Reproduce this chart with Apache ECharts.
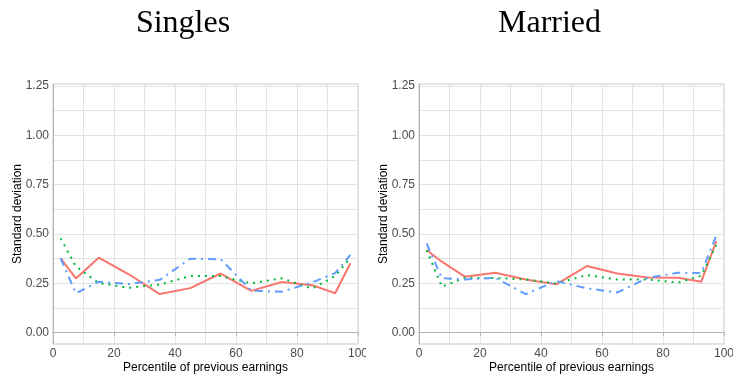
<!DOCTYPE html>
<html>
<head>
<meta charset="utf-8">
<script src="https://cdn.jsdelivr.net/npm/echarts@6/dist/echarts.min.js"></script>
<style>
  html, body { margin: 0; padding: 0; background: #ffffff; }
  #wrap { position: relative; width: 733px; height: 382px; overflow: hidden; }
  .panel { position: absolute; top: 0; height: 382px; overflow: hidden; }
</style>
</head>
<body>
<div id="wrap">
  <div id="left" class="panel" style="left:0;width:366px;"></div>
  <div id="right" class="panel" style="left:366px;width:367px;"></div>
</div>
<script>
// Percentile bin midpoints
const percentiles = [2.5, 7.5, 15, 25, 35, 45, 55, 65, 75, 85, 92.5, 97.5];

// Singles
const singlesRed   = [0.377, 0.275, 0.380, 0.295, 0.196, 0.226, 0.300, 0.212, 0.257, 0.241, 0.200, 0.352];
const singlesGreen = [0.478, 0.336, 0.252, 0.228, 0.244, 0.287, 0.287, 0.250, 0.276, 0.224, 0.287, 0.380];
const singlesBlue  = [0.377, 0.200, 0.258, 0.247, 0.268, 0.375, 0.372, 0.214, 0.208, 0.255, 0.302, 0.394];

// Married
const marriedRed   = [0.419, 0.360, 0.284, 0.304, 0.270, 0.245, 0.338, 0.300, 0.280, 0.279, 0.258, 0.464];
const marriedGreen = [0.419, 0.233, 0.278, 0.277, 0.270, 0.250, 0.292, 0.270, 0.270, 0.254, 0.289, 0.444];
const marriedBlue  = [0.452, 0.276, 0.270, 0.278, 0.196, 0.262, 0.225, 0.204, 0.278, 0.304, 0.302, 0.493];

const yMajorTicks = [0, 0.25, 0.5, 0.75, 1.0, 1.25];
const yAllLines = [0, 0.125, 0.25, 0.375, 0.5, 0.625, 0.75, 0.875, 1.0, 1.125, 1.25];

const titles = ['Singles', 'Married'];
const xName = 'Percentile of previous earnings';
const yName = 'Standard deviation';

const colors = { red: '#F8766D', green: '#00BA38', blue: '#619CFF' };

function pairs(vals) { return percentiles.map((p, i) => [p, vals[i]]); }

function makeOption(title, red, green, blue) {
  return {
    animation: false,
    backgroundColor: '#ffffff',
    title: {
      text: title,
      left: 'center',
      top: 3,
      textStyle: { fontFamily: 'Liberation Serif', fontSize: 32, fontWeight: 'normal', color: '#000' }
    },
    grid: {
      left: 53, top: 84, width: 305, height: 260,
      show: true, borderColor: '#c8c8c8', borderWidth: 1, containLabel: false,
      outerBoundsMode: 'none'
    },
    xAxis: {
      type: 'value', min: 0, max: 100, interval: 20,
      name: xName, nameLocation: 'middle', nameGap: 18, nameMoveOverlap: false,
      nameTextStyle: { fontFamily: 'Liberation Sans', fontSize: 12, color: '#000' },
      axisLine: { show: true, lineStyle: { color: '#b3b3b3' } },
      axisTick: { show: true, length: 3, lineStyle: { color: '#b3b3b3' } },
      axisLabel: { fontFamily: 'Liberation Sans', fontSize: 12, color: '#4d4d4d', margin: 4, hideOverlap: false },
      splitLine: { show: true, lineStyle: { color: '#e3e3e3', width: 1 } },
      minorTick: { show: false, splitNumber: 2 },
      minorSplitLine: { show: true, lineStyle: { color: '#e3e3e3', width: 1 } }
    },
    yAxis: {
      type: 'value', min: -0.057, max: 1.26,
      name: yName, nameLocation: 'middle', nameGap: 29, nameMoveOverlap: false,
      nameTextStyle: { fontFamily: 'Liberation Sans', fontSize: 12, color: '#000' },
      axisLine: { show: true, lineStyle: { color: '#b3b3b3' } },
      axisTick: { show: false, customValues: yAllLines },
      axisLabel: {
        customValues: yMajorTicks,
        fontFamily: 'Liberation Sans', fontSize: 12, color: '#4d4d4d', margin: 4,
        formatter: v => v.toFixed(2)
      },
      splitLine: { show: true, lineStyle: { color: '#e3e3e3', width: 1 } }
    },
    series: [
      { type: 'line', data: pairs(red), symbol: 'none', lineStyle: { color: colors.red, width: 2, type: 'solid' }, z: 3 },
      { type: 'line', data: pairs(green), symbol: 'none', lineStyle: { color: colors.green, width: 2, type: [2, 5] }, z: 4 },
      { type: 'line', data: pairs(blue), symbol: 'none', lineStyle: { color: colors.blue, width: 2, type: [8, 5, 2, 5] }, z: 5 }
    ]
  };
}

const c1 = echarts.init(document.getElementById('left'), null, { renderer: 'canvas' });
c1.setOption(makeOption(titles[0], singlesRed, singlesGreen, singlesBlue));
const c2 = echarts.init(document.getElementById('right'), null, { renderer: 'canvas' });
c2.setOption(makeOption(titles[1], marriedRed, marriedGreen, marriedBlue));
</script>
</body>
</html>
